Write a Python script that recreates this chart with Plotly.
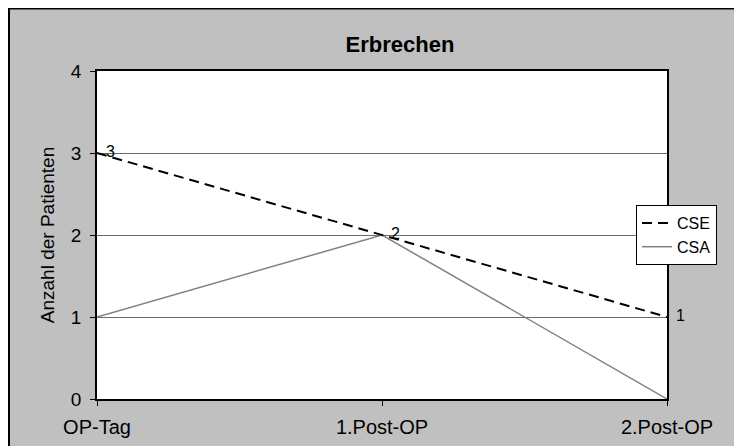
import plotly.graph_objects as go

categories = ["OP-Tag", "1.Post-OP", "2.Post-OP"]
cse = [3, 2, 1]
csa = [1, 2, 0]
title_text = "Erbrechen"
y_title = "Anzahl der Patienten"

# figure is drawn 8px in from the page corner (body margin)
W, H = 734, 438
L, R, T, B = 89, 75, 63, 47
pw, ph = W - L - R, H - T - B

def px_x(px):
    return (px - L) / pw

def px_y(py):
    return (H - B - py) / ph

FONT = "Liberation Sans, Arial, sans-serif"

fig = go.Figure()
fig.add_trace(go.Scatter(
    x=categories, y=csa, name="CSA", mode="lines",
    line=dict(color="#808080", width=1.5),
))
fig.add_trace(go.Scatter(
    x=categories, y=cse, name="CSE", mode="lines+text",
    text=["\u00a0\u00a0" + str(v) for v in cse], textposition="middle right",
    textfont=dict(family=FONT, size=16, color="black"), cliponaxis=False,
    line=dict(color="black", width=2, dash="10px,6px"),
))

fig.update_layout(
    width=W, height=H,
    margin=dict(l=L, r=R, t=T, b=B, pad=0, autoexpand=False),
    paper_bgcolor="white", plot_bgcolor="white",
    font=dict(family=FONT, size=19, color="black"),
    title=dict(text="<b>" + title_text + "</b>", x=px_x(392), xref="paper",
               y=1 - 36 / H, yref="container", xanchor="center", yanchor="middle",
               font=dict(family=FONT, size=22, color="black")),
    legend=dict(x=px_x(628), y=0.5, xanchor="left", yanchor="middle",
                bgcolor="white", bordercolor="black", borderwidth=1,
                font=dict(family=FONT, size=16, color="black"),
                traceorder="reversed", itemwidth=30, tracegroupgap=0),
    shapes=[
        dict(type="rect", xref="paper", yref="paper", layer="below",
             x0=px_x(1), x1=px_x(727), y0=px_y(470), y1=px_y(0.5),
             fillcolor="#C0C0C0", line=dict(color="black", width=2)),
        dict(type="rect", xref="paper", yref="paper", layer="below",
             x0=0, x1=1, y0=0, y1=1, fillcolor="white", line=dict(width=0)),
    ],
)

fig.update_xaxes(
    type="category", range=[0, 2], showgrid=False, automargin=False,
    showline=True, linecolor="black", linewidth=1.5, mirror=True,
    ticks="outside", ticklen=5, tickcolor="black", ticklabelstandoff=4,
    tickfont=dict(family=FONT, size=20, color="black"),
)
fig.update_yaxes(
    range=[0, 4], dtick=1, showgrid=True, gridcolor="#6a6a6a", gridwidth=1,
    automargin=False,
    zeroline=False, showline=True, linecolor="black", linewidth=1.5, mirror=True,
    ticks="outside", ticklen=5, tickcolor="black", ticklabelstandoff=5,
    tickfont=dict(family=FONT, size=19, color="black"),
    title=dict(text=y_title, font=dict(family=FONT, size=19, color="black"), standoff=11),
)

fig.write_html("out.html")
